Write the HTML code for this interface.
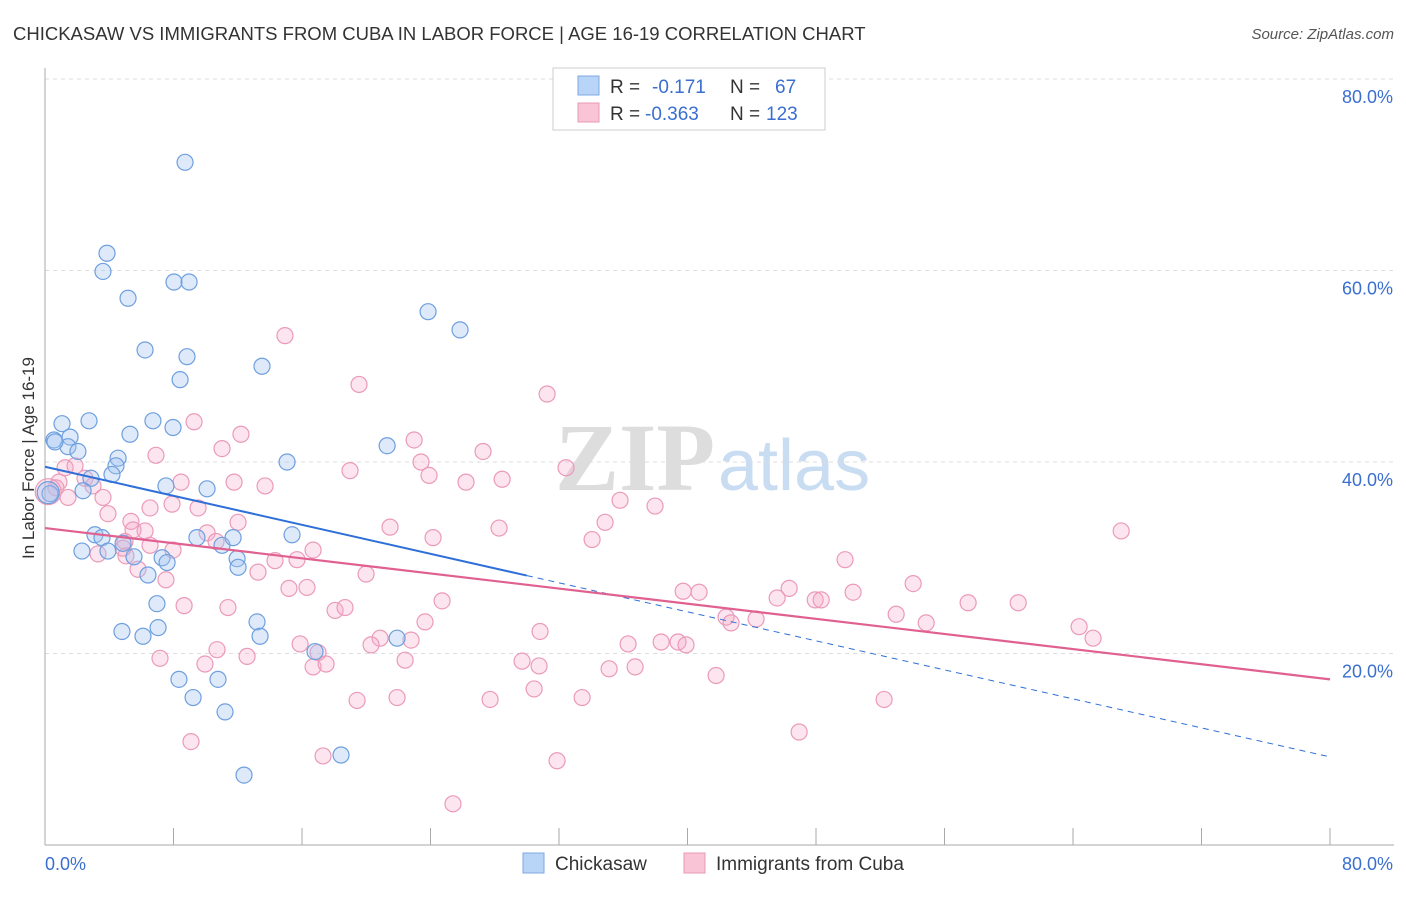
<!DOCTYPE html>
<html><head><meta charset="utf-8">
<style>
body{margin:0;background:#fff;font-family:"Liberation Sans",sans-serif;}
svg text{font-family:"Liberation Sans",sans-serif;}
</style></head>
<body>
<svg id="chart" width="1406" height="892" xmlns="http://www.w3.org/2000/svg">
<text x="13" y="40" font-size="18.5" fill="#333">CHICKASAW VS IMMIGRANTS FROM CUBA IN LABOR FORCE | AGE 16-19 CORRELATION CHART</text>
<text x="1394" y="39" font-size="15" fill="#555" text-anchor="end" font-style="italic">Source: ZipAtlas.com</text>
<g>
<text x="555" y="490" font-size="96" fill="#ddd" font-family="Liberation Serif" font-weight="bold" style="font-family:'Liberation Serif',serif">ZIP</text>
<text x="718" y="490" font-size="72" fill="#c8dcf2">atlas</text>
</g>
<g id="grid"></g>
<g id="axes"></g>
<g id="pts"></g>
<g id="lines"></g>
<text x="13" y="0" transform="translate(34,458) rotate(-90) translate(-13,0)" font-size="17" fill="#333" text-anchor="middle">In Labor Force | Age 16-19</text>
<g>
<rect x="553" y="68" width="272" height="62" fill="#fff" stroke="#ccc"/>
<rect x="578" y="76" width="21" height="19" fill="#b8d4f6" stroke="#7fa8e0"/>
<rect x="578" y="103" width="21" height="19" fill="#f8c4d6" stroke="#e899b8"/>
<text x="610" y="93" font-size="19" fill="#333">R =</text><text x="652" y="93" font-size="19" fill="#3a6fd0">-0.171</text>
<text x="730" y="93" font-size="19" fill="#333">N =</text><text x="775" y="93" font-size="19" fill="#3a6fd0">67</text>
<text x="610" y="120" font-size="19" fill="#333">R =</text><text x="645" y="120" font-size="19" fill="#3a6fd0">-0.363</text>
<text x="730" y="120" font-size="19" fill="#333">N =</text><text x="766" y="120" font-size="19" fill="#3a6fd0">123</text>
</g>
<g>
<rect x="523" y="853" width="21" height="20" fill="#b8d4f6" stroke="#7fa8e0"/>
<text x="555" y="870" font-size="19" fill="#333">Chickasaw</text>
<rect x="684" y="853" width="21" height="20" fill="#f8c4d6" stroke="#e899b8"/>
<text x="716" y="870" font-size="19" fill="#333">Immigrants from Cuba</text>
</g>
</svg>
<script>
const blueX=[8.72,3.86,3.61,5.17,8.03,8.97,23.85,25.84,6.23,8.84,13.51,8.41,1.06,2.74,6.72,7.97,5.29,0.56,1.56,1.43,2.05,0.62,21.3,4.55,4.42,15.07,4.17,2.86,2.37,7.53,10.09,0.31,3.11,3.55,4.86,11.02,9.46,11.71,15.38,2.3,3.92,5.54,7.29,7.6,11.96,12.02,6.41,6.97,13.2,4.79,6.1,7.04,13.39,21.92,16.81,8.34,10.77,9.22,11.21,12.39,18.43,0.2];
const blueY=[71.3,61.8,59.9,57.1,58.8,58.8,55.7,53.8,51.7,51.0,50.0,48.6,44.0,44.3,44.3,43.6,42.9,42.3,42.6,41.6,41.1,42.1,41.7,40.4,39.6,40.0,38.7,38.3,37.0,37.5,37.2,36.7,32.4,32.1,31.5,31.3,32.1,32.1,32.4,30.7,30.7,30.1,30.0,29.5,29.9,29.0,28.2,25.2,23.3,22.3,21.8,22.7,21.8,21.6,20.2,17.3,17.3,15.4,13.9,7.3,9.4,36.8];
const pinkX=[14.94,19.55,31.26,9.28,12.2,11.02,22.98,27.27,6.91,18.99,23.41,23.91,32.44,26.21,28.46,8.47,11.77,13.7,1.25,1.87,2.49,2.99,3.61,0.87,0.68,1.43,6.54,7.91,9.53,35.8,37.98,34.87,3.92,5.35,6.23,10.09,12.02,21.48,28.27,24.16,34.06,67.0,4.98,6.54,7.97,10.65,3.3,5.04,16.69,49.81,5.79,7.53,13.26,14.32,15.69,19.99,54.05,15.19,16.31,39.73,40.72,46.33,50.31,45.58,47.95,48.32,57.47,60.59,24.72,8.66,11.39,18.06,18.68,52.99,42.4,42.71,44.27,54.86,23.66,30.82,64.38,65.25,20.86,22.79,36.3,38.36,39.41,39.91,15.88,20.3,17.0,10.71,12.58,7.16,9.96,16.69,17.5,22.42,29.7,30.76,35.12,36.74,41.78,30.45,19.43,21.92,27.71,33.44,52.24,9.09,17.31,46.95,31.88,25.4,5.48,4.86,0.2];
const pinkY=[53.2,48.1,47.1,44.2,42.9,41.4,42.3,41.1,40.7,39.1,40.0,38.6,39.4,37.9,38.2,37.9,37.9,37.5,39.4,39.6,38.3,37.5,36.3,37.9,37.3,36.3,35.2,35.6,35.2,36.0,35.4,33.7,34.6,33.8,32.8,32.6,33.7,33.2,33.1,32.1,31.9,32.8,31.7,31.3,30.8,31.7,30.4,30.2,30.8,29.8,28.8,27.7,28.5,29.7,29.8,28.3,27.3,26.8,26.9,26.5,26.4,26.8,26.4,25.8,25.6,25.6,25.3,25.3,25.5,25.0,24.8,24.5,24.8,24.1,23.8,23.2,23.6,23.2,23.3,22.3,22.8,21.6,21.6,21.4,21.0,21.2,21.2,20.9,21.0,20.9,20.1,20.4,19.7,19.5,18.9,18.6,18.9,19.3,19.2,18.7,18.4,18.6,17.7,16.3,15.1,15.4,15.2,15.4,15.2,10.8,9.3,11.8,8.8,4.3,32.9,31.0,36.9];
const yTicks=[20,40,60,80];
const yTickLabels=["20.0%","40.0%","60.0%","80.0%"];
const xTicks=[0,8,16,24,32,40,48,56,64,72,80];
const blueTrend=[39.5,9.2]; // value at x=0 and x=80
const blueSolidEnd=30;
const pinkTrend=[33.1,17.3];

const NS="http://www.w3.org/2000/svg";
const X=v=>45+v*16.0625;
const Y=v=>845-v*9.575;
function mk(tag,attrs,parent){const e=document.createElementNS(NS,tag);for(const k in attrs)e.setAttribute(k,attrs[k]);parent.appendChild(e);return e;}
const grid=document.getElementById('grid'),axes=document.getElementById('axes'),pts=document.getElementById('pts'),lines=document.getElementById('lines');
yTicks.forEach((t,i)=>{
  const l=mk('line',{x1:45,x2:1394,y1:Y(t),y2:Y(t),stroke:'#ddd','stroke-dasharray':'4,4'},grid);
  
  
  const tx=mk('text',{x:1393,y:Y(t)+24,'font-size':18,fill:'#3a6fd0','text-anchor':'end'},axes);
  tx.textContent=yTickLabels[i];
  
  
});
mk('line',{x1:45,x2:45,y1:68,y2:845,stroke:'#aaa'},axes);
mk('line',{x1:45,x2:1394,y1:845,y2:845,stroke:'#aaa'},axes);
xTicks.forEach(t=>{
  const l=mk('line',{x1:X(t),x2:X(t),y1:828,y2:845,stroke:'#aaa'},axes);
  
  
});
const x0=mk('text',{x:45,y:870,'font-size':18,fill:'#3a6fd0'},axes);x0.textContent="0.0%";


const x1=mk('text',{x:1393,y:870,'font-size':18,fill:'#3a6fd0','text-anchor':'end'},axes);x1.textContent="80.0%";


pinkX.forEach((v,i)=>{
  const c=mk('circle',{cx:X(v),cy:Y(pinkY[i]),r:i==pinkX.length-1?13:8,fill:'rgba(244,170,198,0.3)',stroke:'#eb9ab9','stroke-width':1.2},pts);
  
  
});
blueX.forEach((v,i)=>{
  const c=mk('circle',{cx:X(v),cy:Y(blueY[i]),r:i==blueX.length-1?11:8,fill:'rgba(160,196,240,0.35)',stroke:'#6e9fdf','stroke-width':1.2},pts);
  
  
});
const bAt=x=>blueTrend[0]+(blueTrend[1]-blueTrend[0])*x/80;
const pAt=x=>pinkTrend[0]+(pinkTrend[1]-pinkTrend[0])*x/80;
const bs=mk('line',{x1:X(0),y1:Y(bAt(0)),x2:X(blueSolidEnd),y2:Y(bAt(blueSolidEnd)),stroke:'#2e6fd8','stroke-width':2},lines);


const bd=mk('line',{x1:X(blueSolidEnd),y1:Y(bAt(blueSolidEnd)),x2:X(80),y2:Y(bAt(80)),stroke:'#2e6fd8','stroke-width':1,'stroke-dasharray':'6,5'},lines);


const pl=mk('line',{x1:X(0),y1:Y(pAt(0)),x2:X(80),y2:Y(pAt(80)),stroke:'#e0608f','stroke-width':2.2},lines);


</script>
</body></html>
